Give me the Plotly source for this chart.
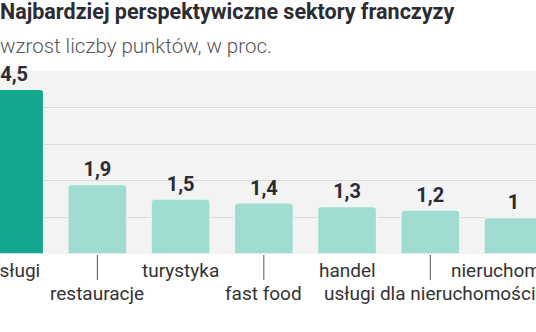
import plotly.graph_objects as go

categories = ["usługi", "restauracje", "turystyka", "fast food", "handel",
              "usługi dla nieruchomości", "nieruchomości"]
values = [4.5, 1.9, 1.5, 1.4, 1.3, 1.2, 1.0]
highlight = [True, False, False, False, False, False, False]
y_ticks = [0, 1, 2, 3, 4, 5]

title = "Najbardziej perspektywiczne sektory franczyzy"
subtitle = "wzrost liczby punktów, w proc."

DARK = "#14a98f"
LIGHT = "#a0dcd1"
colors = [DARK if h else LIGHT for h in highlight]
xpos = list(range(len(categories)))

fig = go.Figure()
fig.add_trace(go.Bar(
    x=xpos, y=values,
    width=0.71,
    marker=dict(color=colors, cornerradius=4,
                line=dict(color="#eef5f3", width=1.5)),
    texttemplate="%{y}",
    textposition="outside",
    textfont=dict(family="Roboto", size=20, color="#2b2b33", weight="bold"),
    cliponaxis=False,
    hoverinfo="skip",
))

annotations = [
    dict(text=title, x=-0.004, y=1, xref="paper", yref="paper",
         xanchor="left", yanchor="top", yshift=71 + 3, showarrow=False,
         font=dict(family="Roboto", size=21.5, color="#2b2b33", weight="bold")),
    dict(text=subtitle, x=-0.004, y=1, xref="paper", yref="paper",
         xanchor="left", yanchor="top", yshift=71 - 32, showarrow=False,
         font=dict(family="Roboto", size=20.5, color="#555555", weight=300)),
]
for i, c in enumerate(categories):
    if i % 2 == 0:
        annotations.append(dict(text=c, x=i, y=0, xref="x", yref="y",
                                yanchor="top", yshift=-3, showarrow=False,
                                font=dict(family="Roboto", size=19, color="#333333")))
    else:
        annotations.append(dict(text=c, x=i, y=0, xref="x", yref="y",
                                showarrow=True, arrowhead=0, arrowwidth=1,
                                arrowcolor="#555555", ax=0, ay=39, standoff=1,
                                font=dict(family="Roboto", size=19, color="#333333")))

fig.update_layout(
    width=536, height=332,
    margin=dict(l=0, r=0, t=71, b=78),
    paper_bgcolor="white",
    plot_bgcolor="#f3f3f4",
    separators=", ",
    showlegend=False,
    annotations=annotations,
    xaxis=dict(range=[-0.17, 6.27], showticklabels=False, showgrid=False,
               zeroline=False, fixedrange=True),
    yaxis=dict(range=[0, 5], tickvals=y_ticks, showticklabels=False,
               showgrid=True, gridcolor="#d9d9da", gridwidth=1,
               zeroline=False, fixedrange=True),
)

fig.write_html("out.html")
